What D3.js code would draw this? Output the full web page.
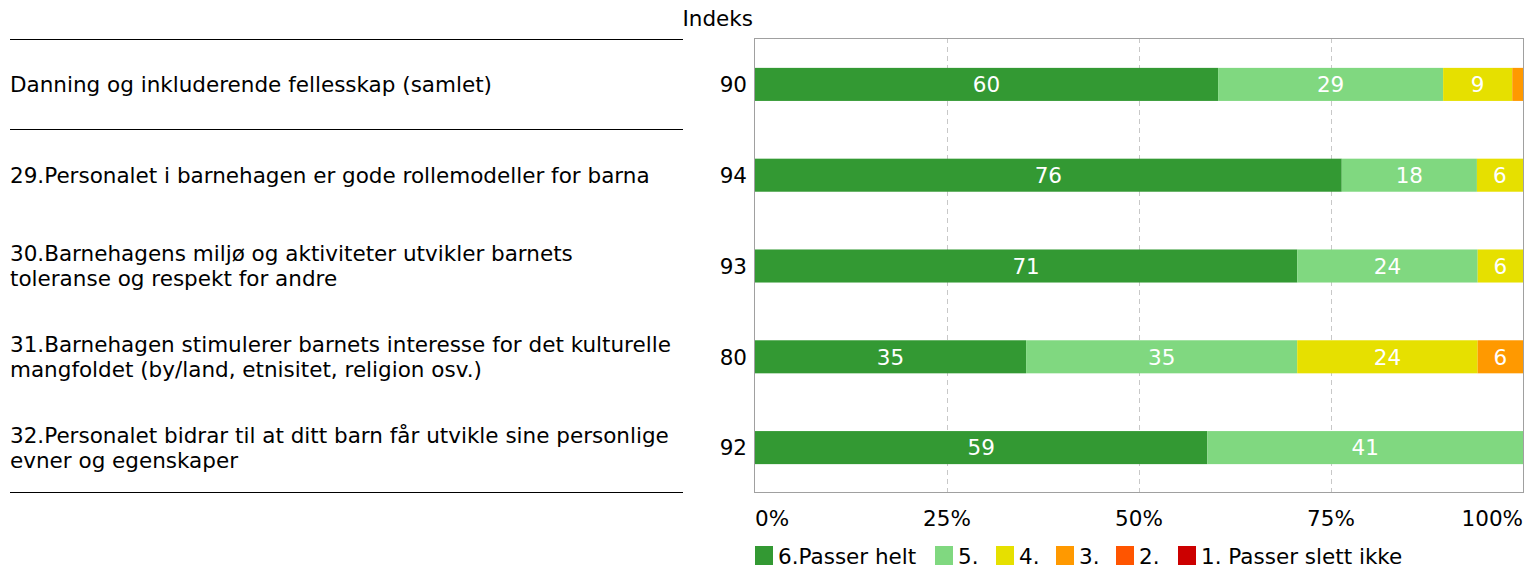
<!DOCTYPE html>
<html><head><meta charset="utf-8">
<script src="https://cdn.jsdelivr.net/npm/d3@7"></script>
<style>body{margin:0;background:#fff}svg{display:block;font-family:"DejaVu Sans",Verdana,sans-serif}</style>
</head><body>
<svg id="c" width="1526" height="568"></svg>
<script>
const categories = [
  ["Danning og inkluderende fellesskap (samlet)"],
  ["29.Personalet i barnehagen er gode rollemodeller for barna"],
  ["30.Barnehagens miljø og aktiviteter utvikler barnets", "toleranse og respekt for andre"],
  ["31.Barnehagen stimulerer barnets interesse for det kulturelle", "mangfoldet (by/land, etnisitet, religion osv.)"],
  ["32.Personalet bidrar til at ditt barn får utvikle sine personlige", "evner og egenskaper"]
];
const indeks = [90, 94, 93, 80, 92];
const seriesNames = ["6.Passer helt", "5.", "4.", "3.", "2.", "1. Passer slett ikke"];
const s6 = [60.3, 76.4, 70.6, 35.3, 58.9];
const s5 = [29.3, 17.6, 23.5, 35.3, 41.1];
const s4 = [9.0, 6.0, 5.9, 23.5, 0];
const s3 = [1.4, 0, 0, 5.9, 0];
const s2 = [0, 0, 0, 0, 0];
const s1 = [0, 0, 0, 0, 0];
const labels6 = [60, 76, 71, 35, 59];
const labels5 = [29, 18, 24, 35, 41];
const labels4 = [9, 6, 6, 24, null];
const labels3 = [null, null, null, 6, null];
const labels2 = [null, null, null, null, null];
const labels1 = [null, null, null, null, null];
const ticks = [0, 25, 50, 75, 100];
const colors = ["#339933", "#80d880", "#e6e000", "#ff9900", "#ff5500", "#cc0000"];

const FS = 21.5;
const svg = d3.select("#c");
const L = 755, R = 1523, T = 38, B = 492;
const x = d3.scaleLinear().domain([0, 100]).range([L, R]);
const y = d3.scaleBand().domain(d3.range(categories.length)).range([T + 1, B + 1]).paddingInner(0.636).paddingOuter(0.318);

// grid
svg.append("g").selectAll("line").data(ticks.slice(1, -1)).join("line")
  .attr("x1", d => x(d) + 0.5).attr("x2", d => x(d) + 0.5).attr("y1", T).attr("y2", B)
  .attr("stroke", "#c8c8c8").attr("stroke-dasharray", "5,4");

const series = [s6, s5, s4, s3, s2, s1];
const lbls = [labels6, labels5, labels4, labels3, labels2, labels1];
const rows = categories.map((c, i) => {
  const o = {};
  series.forEach((s, k) => o[k] = s[i]);
  return o;
});
const stack = d3.stack().keys(d3.range(6))(rows);
const gb = svg.append("g");
stack.forEach((layer, k) => {
  layer.forEach((d, i) => {
    if (d[1] - d[0] <= 0) return;
    gb.append("rect").attr("x", x(d[0])).attr("width", x(d[1]) - x(d[0]))
      .attr("y", y(i)).attr("height", y.bandwidth()).attr("fill", colors[k]);
    const lab = lbls[k][i];
    if (lab != null) {
      gb.append("text").attr("x", (x(d[0]) + x(d[1])) / 2).attr("y", y(i) + y.bandwidth() / 2)
        .attr("dy", "0.36em").attr("text-anchor", "middle").attr("fill", "#fff")
        .attr("font-size", FS).text(lab);
    }
  });
});

// frame
svg.append("rect").attr("x", L - 0.5).attr("y", T + 0.5).attr("width", R - L + 1).attr("height", B - T)
  .attr("fill", "none").attr("stroke", "#a0a0a0");

// x tick labels
const xa = svg.append("g");
ticks.forEach((t, i) => {
  const anchor = i === 0 ? "start" : (i === ticks.length - 1 ? "end" : "middle");
  xa.append("text").attr("x", x(t)).attr("y", 526).attr("text-anchor", anchor)
    .attr("font-size", FS).attr("fill", "#000").text(t + "%");
});

// index labels
svg.append("text").attr("x", 753).attr("y", 26).attr("text-anchor", "end").attr("font-size", FS).text("Indeks");
indeks.forEach((v, i) => {
  svg.append("text").attr("x", 747).attr("y", y(i) + y.bandwidth() / 2).attr("dy", "0.36em")
    .attr("text-anchor", "end").attr("font-size", FS).text(v);
});

// left labels
categories.forEach((lines, i) => {
  const cy = y(i) + y.bandwidth() / 2;
  const lh = 24.5;
  const t = svg.append("text").attr("font-size", FS).attr("fill", "#000");
  lines.forEach((ln, j) => {
    t.append("tspan").attr("x", 10).attr("y", cy + (j - (lines.length - 1) / 2) * lh).attr("dy", "0.36em").text(ln);
  });
});
[39, 129, 492].forEach(yy => {
  svg.append("line").attr("x1", 10).attr("x2", 683).attr("y1", yy + 0.5).attr("y2", yy + 0.5).attr("stroke", "#000");
});

// legend
const legX = [755, 935, 996, 1056, 1116, 1178];
seriesNames.forEach((n, k) => {
  svg.append("rect").attr("x", legX[k]).attr("y", 546).attr("width", 18).attr("height", 19).attr("fill", colors[k]);
  svg.append("text").attr("x", legX[k] + 23).attr("y", 556).attr("dy", "0.36em").attr("font-size", FS).text(n);
});
</script>
</body></html>
